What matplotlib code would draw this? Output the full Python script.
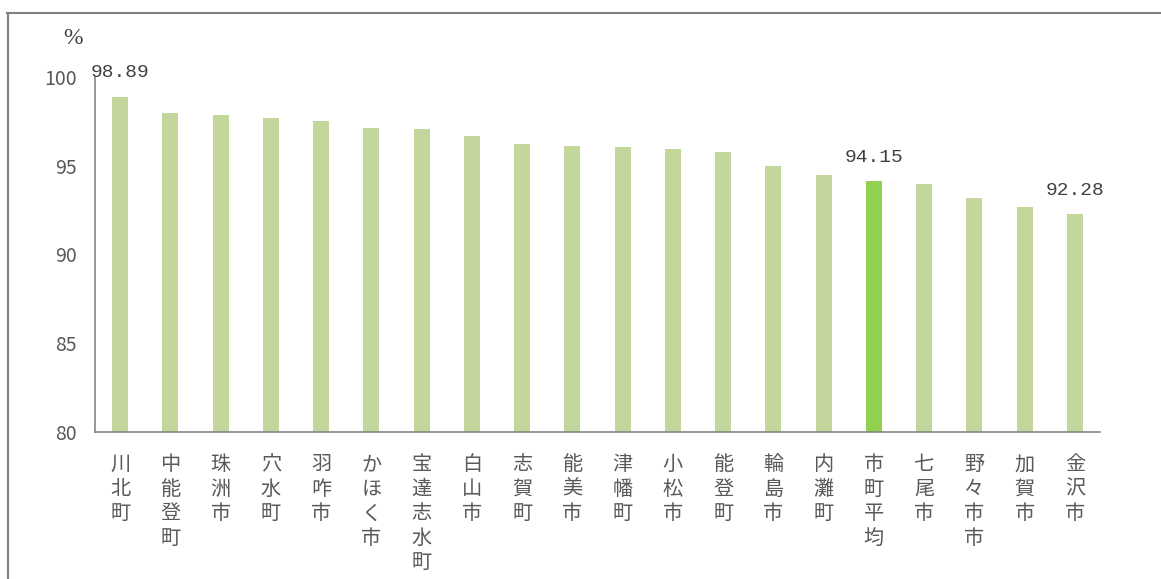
import matplotlib
matplotlib.use("Agg")
import matplotlib.pyplot as plt
from matplotlib.lines import Line2D

# municipalities, ordered as in the chart
towns = ["川北町", "中能登町", "珠洲市", "穴水町", "羽咋市", "かほく市", "宝達志水町",
         "白山市", "志賀町", "能美市", "津幡町", "小松市", "能登町", "輪島市",
         "内灘町", "市町平均", "七尾市", "野々市市", "加賀市", "金沢市"]
rates = [98.89, 98.0, 97.85, 97.7, 97.5, 97.1, 97.05, 96.7, 96.2, 96.1,
         96.05, 95.95, 95.8, 95.0, 94.5, 94.15, 94.0, 93.2, 92.7, 92.28]
labelled = ["川北町", "市町平均", "金沢市"]
yticks = [80, 85, 90, 95, 100]

C_BAR, C_AVG = "#c3d69b", "#92d050"
AXIS, TXT = "#868686", "#595959"
CJK = ["Noto Sans CJK JP", "DejaVu Sans"]

fig = plt.figure(figsize=(11.61, 5.79), dpi=100, facecolor="white")
ax = fig.add_axes([95/1161, 1-432/579, 1005/1161, 355/579])

cols = [C_AVG if t == "市町平均" else C_BAR for t in towns]
x = list(range(len(towns)))
ax.bar(x, [r - 80 for r in rates], bottom=80, width=0.32, color=cols, zorder=2)

for i, (t, r) in enumerate(zip(towns, rates)):
    if t in labelled:
        ax.annotate(f"{r:.2f}", (i, r), xytext=(0, 11), textcoords="offset points",
                    ha="center", va="bottom", fontsize=14, color="#404040",
                    family="Liberation Mono", zorder=4, annotation_clip=False)

ax.set_xlim(-0.5, len(towns) - 0.5)
ax.set_ylim(80, 100)
ax.set_yticks(yticks)
ax.set_yticklabels([str(v) for v in yticks], fontsize=14, color=TXT, family=CJK)
ax.set_xticks(x)
ax.set_xticklabels(["\n".join(t) for t in towns], fontsize=14.5, color=TXT,
                   family=CJK, linespacing=1.22, va="top")
ax.tick_params(axis="y", length=0, pad=13)
ax.tick_params(axis="x", length=0, pad=16)
for s in ("top", "right"):
    ax.spines[s].set_visible(False)
ax.spines["left"].set_color(AXIS)
ax.spines["bottom"].set_color(AXIS)
ax.spines["left"].set_linewidth(1.2)
ax.spines["bottom"].set_linewidth(1.2)

fig.text(73/1161, 1-38/579, "%", fontsize=17, color="#404040",
         family="Liberation Serif", ha="center", va="center")

# outer frame (top and left edges only, as cropped)
fig.add_artist(Line2D([7/1161, 1], [1-12.5/579, 1-12.5/579], color="#808080", lw=1.5))
fig.add_artist(Line2D([7.5/1161, 7.5/1161], [0, 1-12.5/579], color="#808080", lw=1.5))

fig.savefig("out.png", dpi=100, facecolor="white")
